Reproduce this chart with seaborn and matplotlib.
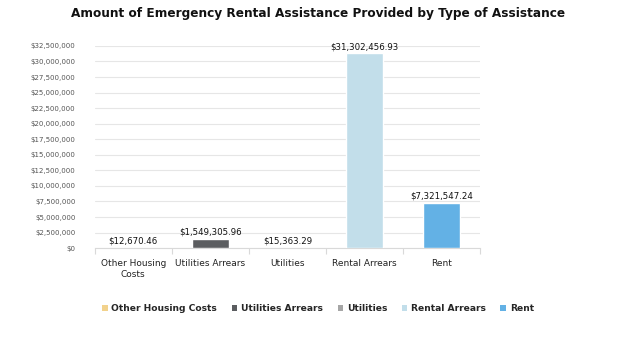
import matplotlib
matplotlib.use("Agg")
import matplotlib.pyplot as plt
import matplotlib.ticker as mticker
from matplotlib.patches import Patch
import seaborn as sns
import pandas as pd

categories = ["Other Housing Costs", "Utilities Arrears", "Utilities", "Rental Arrears", "Rent"]
tick_labels = ["Other Housing\nCosts", "Utilities Arrears", "Utilities", "Rental Arrears", "Rent"]
amounts = [12670.46, 1549305.96, 15363.29, 31302456.93, 7321547.24]
colors = ["#F2D28C", "#5B5D60", "#A6A6A6", "#C2DEEA", "#63B1E5"]

df = pd.DataFrame({"type": categories, "amount": amounts})

sns.set_style("white")
plt.rcParams["font.family"] = ["DejaVu Sans"]

fig = plt.figure(figsize=(6.36, 3.53), dpi=100)
ax = fig.add_axes([0.149, 0.297, 0.606, 0.573])

sns.barplot(data=df, x="type", y="amount", hue="type", palette=colors,
            dodge=False, legend=False, width=0.48, saturation=1, ax=ax, zorder=3)

ax.set_ylim(0, 32500000)
ax.yaxis.set_major_locator(mticker.MultipleLocator(2500000))
ax.yaxis.set_major_formatter(mticker.FuncFormatter(lambda v, p: "${:,.0f}".format(v)))
ax.grid(axis="y", color="#E6E6E6", linewidth=0.8, zorder=0)
ax.set_xlim(-0.5, len(categories) - 0.5)

for s in ["top", "right", "left"]:
    ax.spines[s].set_visible(False)
ax.spines["bottom"].set_color("#D9D9D9")

ax.set_xticks(range(len(categories)))
ax.set_xticklabels(tick_labels, fontsize=6.5, color="#222222")
ax.tick_params(axis="x", length=0, pad=8)
ax.tick_params(axis="y", labelsize=5, colors="#555555", length=0, pad=14)
ax.set_xlabel("")
ax.set_ylabel("")

# small ticks between categories
ax.set_xticks([i - 0.5 for i in range(len(categories) + 1)], minor=True)
ax.tick_params(axis="x", which="minor", bottom=True, length=4, width=0.8, color="#D9D9D9")

for i, v in enumerate(amounts):
    ax.text(i, v + 350000, "${:,.2f}".format(v), ha="center", va="bottom",
            fontsize=6.2, color="#111111")

fig.suptitle("Amount of Emergency Rental Assistance Provided by Type of Assistance",
             x=0.5, y=0.98, fontsize=8.7, fontweight="bold", color="#111111")

handles = [Patch(facecolor=c, edgecolor="none") for c in colors]
fig.legend(handles, categories, loc="center", bbox_to_anchor=(0.5, 0.125),
           ncol=5, frameon=False, handlelength=0.6, handleheight=0.6,
           columnspacing=1.6, handletextpad=0.4, prop={"weight": "bold", "size": 6.6})

fig.savefig("out.png", dpi=100)
